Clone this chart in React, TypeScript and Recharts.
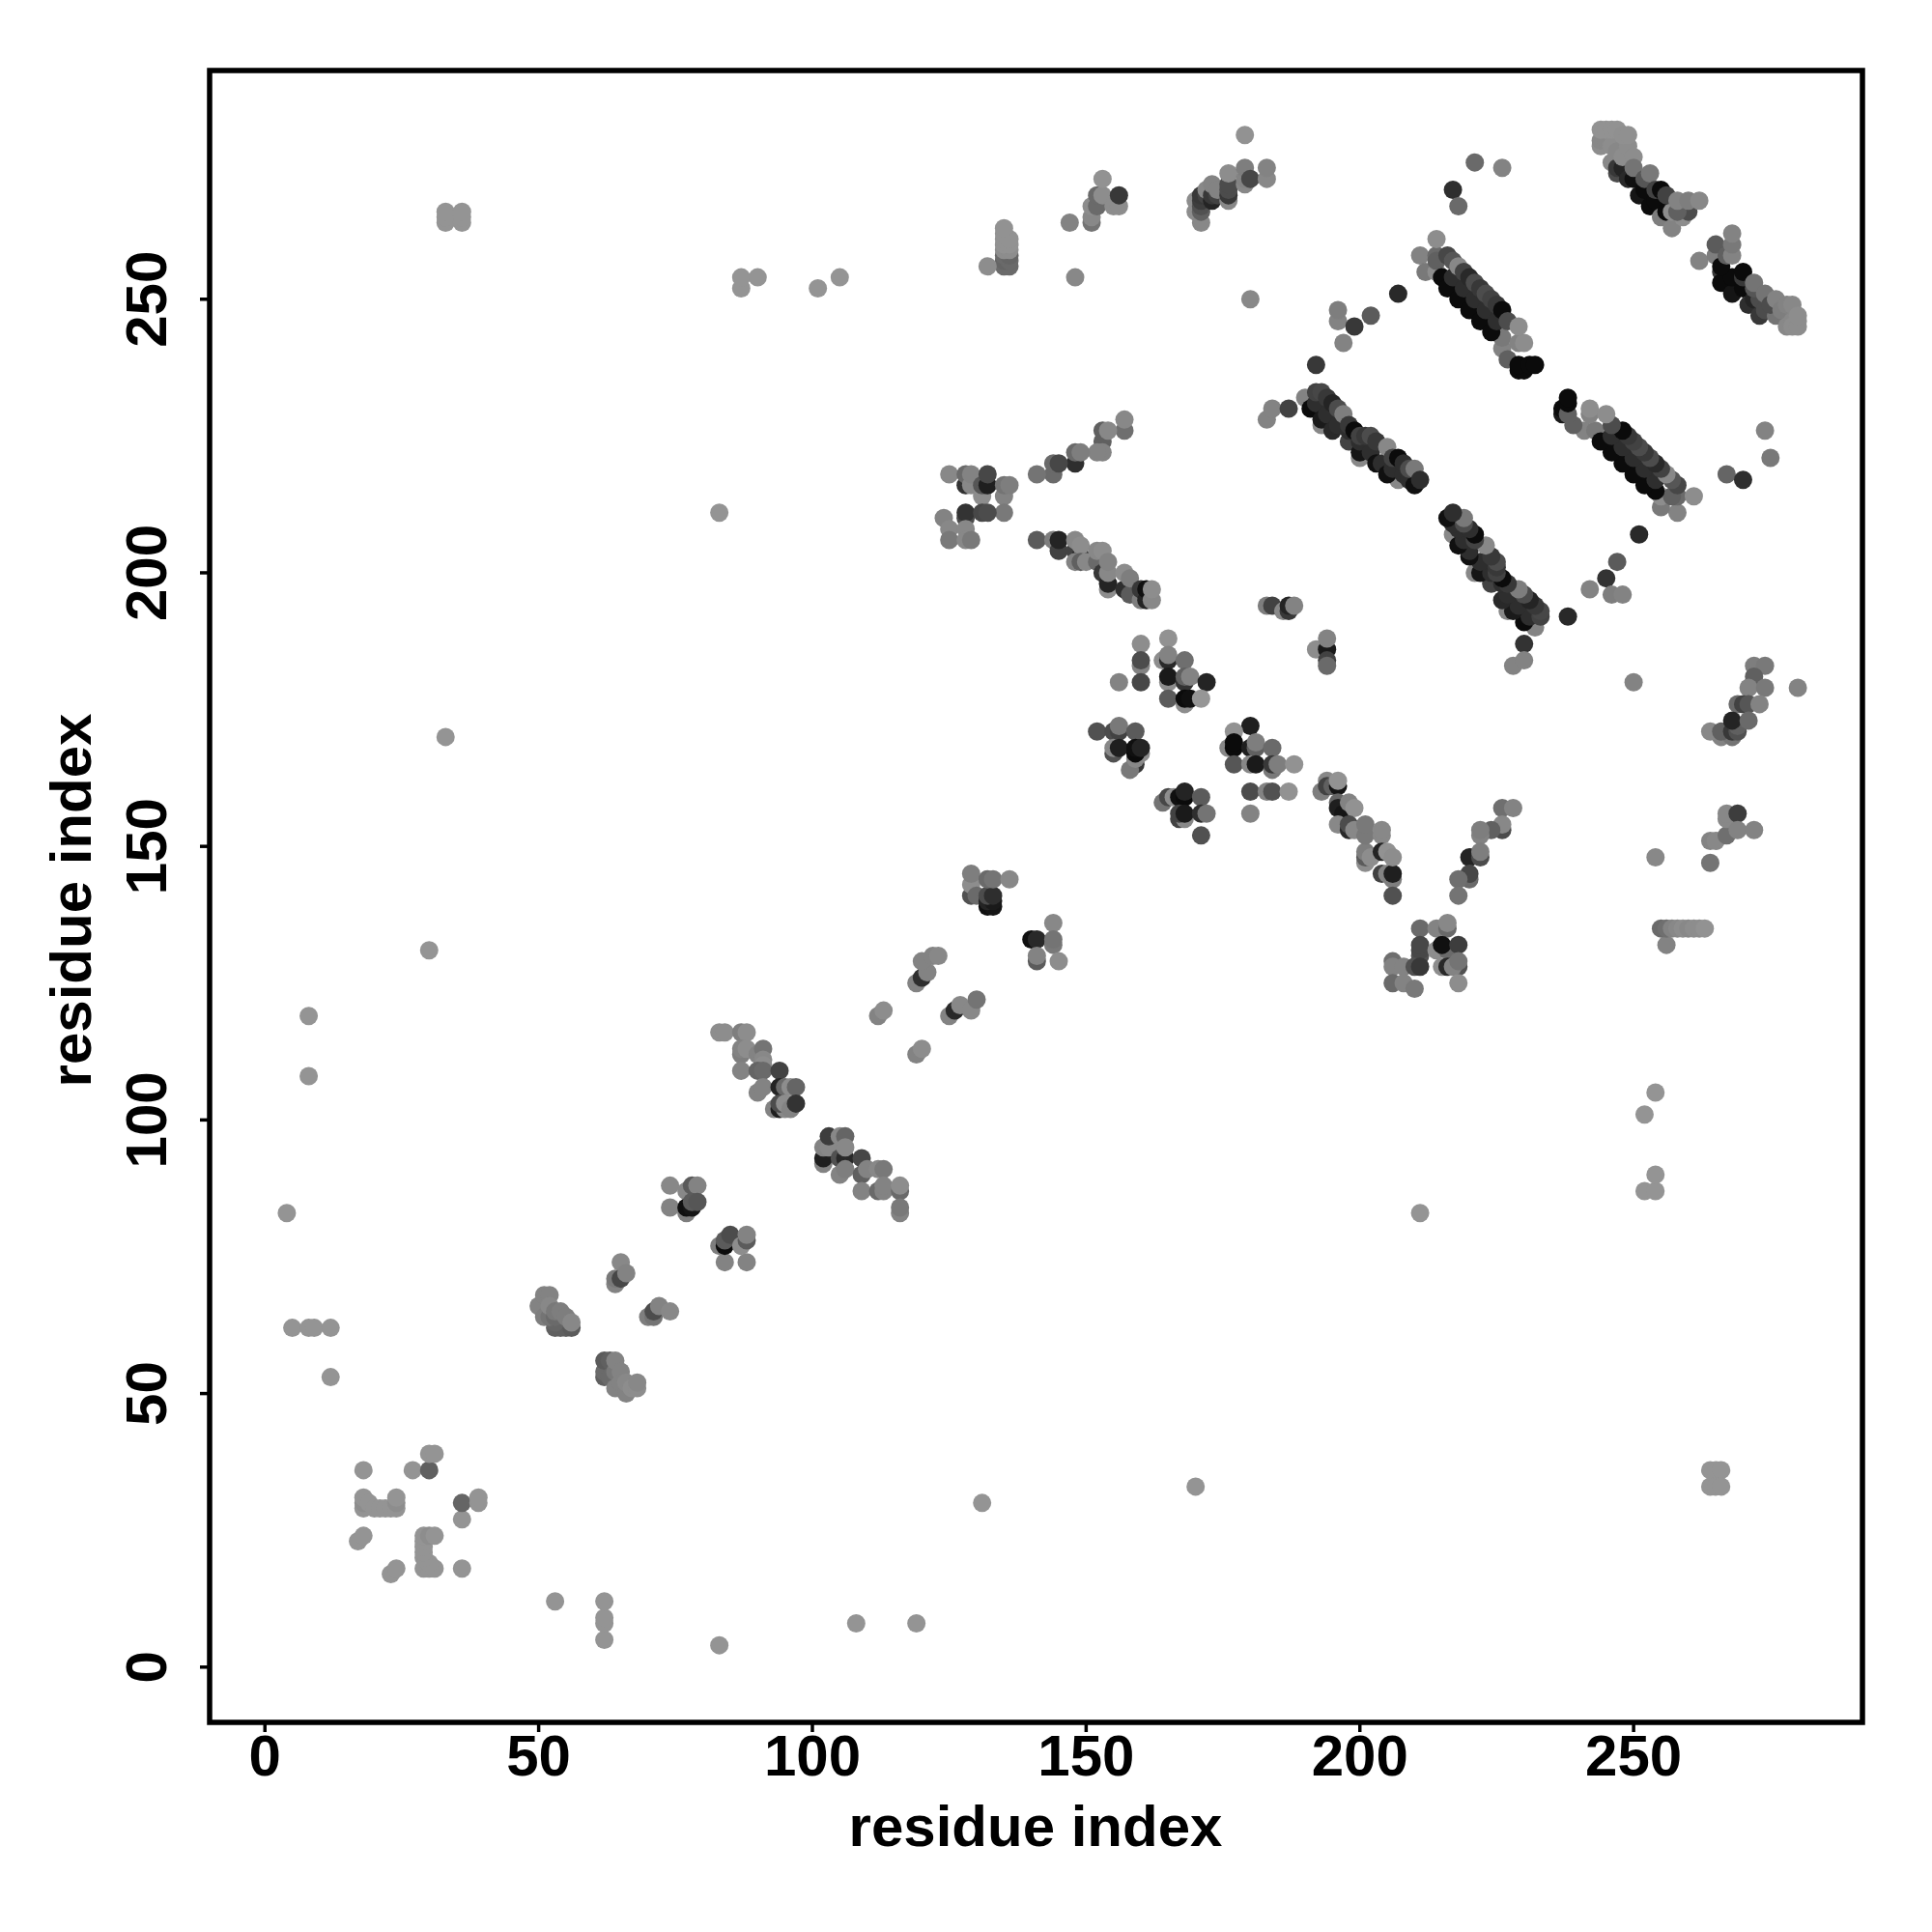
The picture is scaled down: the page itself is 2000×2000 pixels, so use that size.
import React from "react";
import { ScatterChart, Scatter, XAxis, YAxis, ReferenceArea, Label } from "recharts";

type P = number[];
const isolated: P[] = [[4,83,142],[83,4,142],[5,62,142],[8,62,142],[9,62,142],[12,62,142],[62,5,142],[62,8,142],[62,9,142],[62,12,142],[8,108,142],[108,8,142],[8,119,142],[119,8,142],[12,53,142],[53,12,142],[30,131,142],[131,30,142],[33,170,142],[170,33,142],[83,211,142],[211,83,142],[87,252,142],[87,254,142],[90,254,142],[101,252,142],[105,254,142],[252,87,142],[254,87,142],[254,90,142],[252,101,142],[254,105,142]];
const nTerm: P[] = [[18,36,142],[27,36,142],[30,36,90],[36,18,142],[36,27,142],[36,30,95],[30,39,142],[31,39,142],[39,30,142],[39,31,142],[18,29,142],[18,30,135],[18,31,142],[29,18,142],[30,18,142],[31,18,142],[19,30,142],[30,19,142],[20,29,142],[29,20,142],[21,29,142],[29,21,142],[22,29,142],[29,22,142],[23,29,142],[29,23,142],[24,29,142],[24,30,135],[24,31,142],[29,24,142],[30,24,135],[31,24,142],[17,23,142],[23,17,142],[18,24,142],[24,18,142]];
const farCorner: P[] = [[33,264,142],[33,265,142],[33,266,142],[36,264,142],[36,265,142],[36,266,142],[264,36,142],[265,36,142],[266,36,142],[264,33,142],[265,33,142],[266,33,142]];
const topBand: P[] = [[135,256,100],[136,256,100],[135,257,95],[136,257,100],[135,258,100],[136,258,95],[135,259,135],[136,259,135],[135,260,140],[136,260,140],[135,261,140],[136,261,140],[135,262,140],[135,263,140],[132,256,135],[147,264,125],[148,254,130],[151,264,110],[151,265,130],[151,267,135],[152,267,100],[152,269,100],[153,269,135],[153,272,140],[155,267,135],[156,267,135],[156,269,50],[170,266,135],[170,268,135],[171,264,130],[171,266,90],[171,267,75],[171,268,55],[171,269,50],[172,269,60],[172,270,130],[173,268,30],[173,269,50],[173,271,125],[174,269,60],[174,270,125],[176,268,130],[176,269,50],[176,270,70],[176,271,70],[176,273,135],[179,271,130],[179,272,125],[179,274,120],[180,272,65],[183,272,130],[183,274,125],[179,280,140],[180,250,130]];
const branchA: P[] = [[157,226,105],[157,228,130],[153,224,90],[153,226,90],[154,226,130],[153,222,125],[152,222,125],[148,220,40],[148,222,100],[149,222,120],[144,218,100],[144,220,100],[145,220,65],[141,218,110]];
const branchB: P[] = [[141,206,85],[144,206,120],[145,204,60],[145,206,30],[148,204,60],[148,206,130],[149,203,30],[149,205,135],[148,202,125],[149,202,90],[150,202,130],[152,202,100],[152,204,130],[153,204,135],[153,200,50],[154,197,135],[154,198,30],[154,200,130],[154,202,125],[157,197,40],[157,200,135],[158,196,85],[158,199,120],[160,195,120],[160,197,50],[161,195,30],[161,197,10],[162,195,130],[162,197,135]];
const knot: P[] = [[125,218,130],[128,216,45],[128,218,100],[129,216,130],[129,218,125],[131,214,135],[131,216,80],[132,216,25],[132,218,65],[135,214,125],[135,216,110],[136,216,120],[135,211,115],[128,210,70],[128,211,45],[131,211,65],[132,211,70],[124,210,125],[125,208,130],[125,206,115],[128,208,130],[128,206,130],[129,206,115]];
const blockA: P[] = [[160,187,135],[160,183,125],[160,184,70],[160,180,65],[156,180,125],[165,188,140],[164,184,135],[165,184,35],[165,185,125],[168,184,105],[165,180,135],[165,181,20],[168,180,45],[168,181,90],[169,181,125],[172,180,30],[165,177,85],[168,176,135],[168,177,5],[169,177,10],[171,177,145]];
const blockB: P[] = [[152,171,75],[155,171,70],[156,171,60],[156,172,115],[159,171,85],[155,167,75],[155,168,130],[156,168,25],[159,165,50],[158,164,115],[159,166,130],[160,167,135],[159,167,5],[159,168,10],[160,168,30]];
const blockC: P[] = [[164,158,110],[165,159,65],[166,159,135],[167,159,10],[168,159,5],[168,160,30],[171,159,85],[167,155,60],[168,155,130],[167,156,60],[168,156,20],[171,156,40],[172,156,110],[171,152,75]];
const blockD: P[] = [[180,172,25],[177,171,140],[176,168,130],[177,168,5],[177,169,5],[180,168,25],[181,168,90],[181,169,120],[184,168,100],[177,165,80],[180,165,130],[181,165,20],[184,164,115],[184,165,50],[185,165,120],[188,165,140],[180,160,70],[183,160,125],[184,160,75],[187,160,140],[180,156,125]];
const blockE: P[] = [[183,194,120],[184,194,60],[186,193,130],[187,193,50],[187,194,30],[188,194,125],[192,186,135],[194,186,20],[194,184,60],[194,183,100],[194,188,125]];
const vLeft: P[] = [[193,160,120],[194,162,130],[194,161,60],[195,161,90],[196,161,15],[196,162,140],[196,158,95],[196,157,25],[197,156,15],[198,158,125],[199,157,140],[196,154,130],[198,153,35],[198,154,70],[199,153,130],[201,147,135],[201,148,85],[201,149,120],[202,148,135],[201,152,115],[201,154,115],[204,152,130],[204,153,130],[204,145,60],[205,145,125],[204,149,30],[205,149,140],[206,144,120],[206,145,25],[206,148,135],[206,141,75]];
const vRight: P[] = [[226,157,105],[228,157,125],[226,153,70],[226,154,130],[224,153,90],[222,152,125],[222,153,120],[220,148,30],[222,148,70],[222,149,120],[220,144,100],[220,145,65],[218,144,105],[218,141,110]];
const vBase: P[] = [[211,135,100],[214,135,125],[216,135,100],[216,136,130],[211,130,75],[211,131,65],[211,132,65],[214,131,135],[216,131,100],[215,132,10],[218,132,55],[206,129,105],[206,128,125],[208,128,125],[210,128,75],[211,128,50],[215,128,135],[216,128,35],[218,128,75],[217,128,125],[218,129,110],[206,125,100],[208,125,125],[210,124,115],[218,125,135]];
const rightTop: P[] = [[254,148,130],[264,147,110],[264,151,125],[265,151,130],[267,152,105],[267,155,130],[267,156,130],[269,156,55],[269,153,125],[272,153,125],[272,183,120],[274,183,115],[272,180,80],[272,181,90],[271,179,125],[274,179,115],[280,179,125],[269,176,100],[270,176,60],[271,176,80],[273,176,125],[266,170,125],[268,170,110],[264,171,130],[266,171,90],[268,171,50],[269,171,75],[269,172,90],[268,173,30],[271,173,100]];
const shelf: P[] = [[256,132,125],[255,135,100],[256,135,105],[257,135,125],[258,135,130],[259,135,135],[260,135,130],[261,135,135],[262,135,135],[263,135,140]];
const midA: P[] = [[144,136,130],[140,133,10],[141,133,35],[144,132,115],[144,133,110],[141,129,85],[141,130,125],[145,129,135],[129,141,75],[129,143,135],[129,145,120],[130,141,100],[132,139,10],[133,139,15],[132,140,30],[133,140,20],[132,141,70],[133,141,40],[132,144,100],[133,144,110],[136,144,130],[125,119,125],[126,120,35],[127,121,130],[129,120,130],[130,122,110],[119,125,125],[120,126,40],[121,127,125],[120,129,125],[122,130,125],[123,130,130],[112,119,125],[113,120,135],[119,112,125],[120,113,135]];
const helixA: P[] = [[83,116,135],[84,116,135],[87,116,120],[88,116,135],[87,112,120],[87,113,125],[88,113,135],[90,112,125],[91,113,110],[91,111,130],[91,110,135],[87,109,125],[90,109,95],[91,109,100],[94,109,60],[90,105,125],[91,106,125],[94,106,30],[95,106,100],[96,106,135],[97,106,95],[93,102,125],[94,102,25],[95,102,130],[94,103,70],[95,103,135],[96,102,125],[97,103,45]];
const helixB: P[] = [[102,92,125],[102,93,25],[102,95,125],[103,95,130],[103,97,55],[105,97,130],[106,97,95],[105,93,75],[106,93,35],[106,95,130],[109,93,65],[105,90,125],[106,91,120],[109,90,90],[110,91,125],[112,91,130],[113,91,115],[109,87,125],[112,87,100],[113,87,125],[113,88,125],[116,87,100],[116,88,135],[116,83,125],[116,84,115]];
const helixC: P[] = [[74,84,125],[74,88,130],[77,87,130],[78,88,85],[79,88,125],[77,83,120],[77,84,10],[78,84,15],[78,85,85],[79,85,80],[84,74,125],[88,74,125],[83,77,120],[84,77,5],[84,78,85],[85,79,70],[87,77,135],[88,78,85],[88,79,125]];
const helixD: P[] = [[65,74,130],[64,70,125],[64,71,115],[65,71,65],[66,72,125],[70,64,120],[71,64,110],[71,65,70],[72,66,125],[74,65,130]];
const helixE: P[] = [[53,62,90],[54,62,90],[55,62,90],[56,62,85],[53,63,95],[50,66,125],[51,64,120],[51,68,125],[52,68,125],[52,64,110],[52,66,130],[53,64,100],[53,65,115],[54,65,120],[55,64,120],[56,63,130]];
const helixF: P[] = [[62,53,90],[62,54,100],[62,56,85],[63,53,100],[63,56,90],[64,54,115],[64,56,125],[65,54,125],[64,51,125],[65,52,125],[66,50,125],[66,52,130],[67,51,135],[68,51,135],[68,52,130]];
const sparseTop: P[] = [[221,275,100],[226,274,125],[217,270,40],[218,267,100],[207,251,35],[202,247,85],[196,246,125],[196,248,120],[197,242,125],[199,245,50],[192,238,50],[183,228,125],[184,230,125],[187,230,60],[238,192,35],[230,187,45],[228,183,125],[230,184,125],[250,180,125],[242,197,125],[245,199,45],[246,196,120],[247,202,85],[248,196,125],[251,207,35],[274,226,125],[275,221,115],[267,218,95],[270,217,40]];
const stripeA: P[] = [[190,232,125],[193,227,130],[200,221,130],[207,217,130],[191,230,5],[192,231,40],[193,228,20],[194,229,40],[195,226,35],[196,227,40],[198,224,60],[198,226,40],[200,222,15],[200,224,40],[202,222,40],[203,220,10],[204,220,40],[205,218,10],[206,219,40],[208,218,40],[209,217,40],[210,216,10],[192,233,60],[193,233,65],[194,232,50],[195,231,30],[196,230,70],[197,229,120],[198,227,50],[199,226,5],[200,225,60],[201,225,50],[202,225,70],[203,224,50],[205,223,130],[206,221,60],[207,221,5],[208,220,40],[209,219,70],[210,219,115],[211,217,40]];
const stripeB: P[] = [[232,190,125],[227,193,130],[221,200,130],[217,207,130],[230,191,5],[231,192,40],[228,193,20],[229,194,40],[226,195,35],[227,196,40],[224,198,60],[226,198,40],[222,200,15],[224,200,40],[222,202,40],[220,203,10],[220,204,40],[218,205,10],[219,206,40],[218,208,40],[217,209,40],[216,210,10],[233,192,60],[233,193,65],[232,194,50],[231,195,30],[230,196,70],[229,197,120],[227,198,50],[226,199,5],[225,200,60],[225,201,50],[225,202,70],[224,203,50],[223,205,130],[221,206,60],[221,207,5],[220,208,40],[219,209,70],[219,210,115],[217,211,40]];
const stripeC: P[] = [[211,258,125],[212,255,115],[214,255,135],[214,258,100],[214,257,90],[226,241,125],[226,243,115],[227,239,90],[215,254,5],[216,252,5],[218,250,5],[220,248,5],[222,246,5],[224,244,5],[217,254,40],[219,252,40],[221,250,40],[223,248,40],[225,246,40],[214,261,135],[216,258,65],[217,257,80],[218,256,130],[219,255,60],[220,254,35],[221,253,70],[222,252,50],[223,251,70],[224,250,60],[225,249,50],[226,248,5],[227,246,70],[229,237,5],[230,237,5],[229,238,5],[231,238,5],[232,238,5],[229,242,125],[230,242,135],[229,245,135]];
const stripeD: P[] = [[258,211,125],[255,212,115],[255,214,135],[258,214,100],[257,214,90],[241,226,125],[243,226,115],[239,227,90],[254,215,5],[252,216,5],[250,218,5],[248,220,5],[246,222,5],[244,224,5],[254,217,40],[252,219,40],[250,221,40],[248,223,40],[246,225,40],[261,214,135],[258,216,65],[257,217,80],[256,218,130],[255,219,60],[254,220,35],[253,221,70],[252,222,50],[251,223,70],[250,224,60],[249,225,50],[248,226,5],[246,227,70],[237,229,20],[237,230,5],[238,229,90],[238,231,5],[238,232,5],[242,229,125],[242,230,135],[245,229,135]];
const stripeE: P[] = [[246,275,130],[247,273,70],[247,274,50],[248,274,30],[249,272,35],[250,272,10],[251,269,15],[252,270,5],[253,267,5],[254,268,5],[255,265,120],[256,266,5],[257,263,125],[257,266,135],[259,265,135],[260,266,70],[244,278,135],[244,279,130],[245,279,130],[246,278,135],[247,277,130],[248,276,135],[249,278,135],[250,276,135],[250,274,110],[252,272,80],[253,273,115],[254,270,60],[255,270,5],[256,269,60],[258,266,90],[244,281,140],[245,281,140],[246,281,140],[247,281,140],[248,280,138],[249,280,138],[258,268,125],[260,268,120],[262,268,130]];
const stripeF: P[] = [[266,255,50],[266,253,5],[268,251,15],[268,254,5],[270,252,5],[271,249,40],[272,250,30],[273,247,50],[273,250,70],[274,248,70],[276,247,110],[262,257,125],[265,258,120],[265,260,85],[266,256,5],[267,258,90],[268,258,125],[268,260,115],[268,262,125],[270,254,50],[270,255,5],[272,252,80],[272,253,110],[274,251,110],[275,249,70],[276,250,125],[277,248,120],[278,249,125],[279,249,130],[278,245,130],[279,246,130],[279,245,135],[280,246,135],[280,245,135],[280,247,135]];

const groups: P[][] = [isolated, nTerm, farCorner, topBand, branchA, branchB, knot, blockA, blockB, blockC, blockD, blockE, vLeft, vRight, vBase, rightTop, shelf, midA, helixA, helixB, helixC, helixD, helixE, helixF, sparseTop, stripeA, stripeB, stripeC, stripeD, stripeE, stripeF];
const table = groups.flat().map(([x, y, g]) => ({ x, y, g }));

const xTicks = [0, 50, 100, 150, 200, 250];
const yTicks = [0, 50, 100, 150, 200, 250];
const domain: [number, number] = [-10.1, 291.8];
const font = "'Liberation Sans', Arial, sans-serif";

const Dot = (p: any) => {
  const g = Math.min(150, (p.payload?.g ?? 142) + 6);
  return <circle cx={p.cx} cy={p.cy} r={9.5} fill={`rgb(${g},${g},${g})`} />;
};

const XTick = (p: any) => (
  <text x={p.x} y={1838} textAnchor="middle" fontFamily={font} fontWeight={700} fontSize={60} fill="#000">
    {p.payload.value}
  </text>
);
const YTick = (p: any) => (
  <text transform={`rotate(-90 172 ${p.y})`} x={172} y={p.y} textAnchor="middle" fontFamily={font} fontWeight={700} fontSize={60} fill="#000">
    {p.payload.value}
  </text>
);

export default function App() {
  return (
    <div style={{ position: "absolute", left: 0, top: 0, width: 2000, height: 2000, background: "#fff" }}>
      <ScatterChart width={2000} height={2000} margin={{ left: 97, right: 72, top: 73, bottom: 97 }}>
        <XAxis type="number" dataKey="x" domain={domain} ticks={xTicks} allowDataOverflow height={120} axisLine={false}
          tickLine={{ stroke: "#000", strokeWidth: 3.5 }} tickSize={10} tick={<XTick />} interval={0}>
          <Label content={() => (
            <text x={1072} y={1911} textAnchor="middle" fontFamily={font} fontWeight={700} fontSize={60} fill="#000">residue index</text>
          )} />
        </XAxis>
        <YAxis type="number" dataKey="y" domain={domain} ticks={yTicks} allowDataOverflow width={120} axisLine={false}
          tickLine={{ stroke: "#000", strokeWidth: 3.5 }} tickSize={10} tick={<YTick />} interval={0}>
          <Label content={() => (
            <text transform="rotate(-90 99 932)" x={99} y={927} textAnchor="middle" fontFamily={font} fontWeight={700} fontSize={60} fill="#000">residue index</text>
          )} />
        </YAxis>
        <Scatter data={table} isAnimationActive={false} shape={<Dot />} />
        <ReferenceArea x1={domain[0]} x2={domain[1]} y1={domain[0]} y2={domain[1]} fill="none" stroke="#000" strokeWidth={5.5} ifOverflow="visible" />
      </ScatterChart>
    </div>
  );
}
